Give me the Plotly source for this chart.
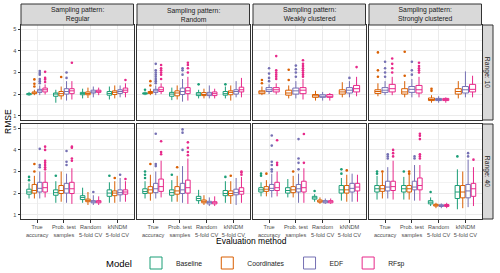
import plotly.graph_objects as go

METHODS = ["True<br>accuracy", "Prob. test<br>samples", "Random<br>5-fold CV", "kNNDM<br>5-fold CV"]
PATTERNS = ["Regular", "Random", "Weakly clustered", "Strongly clustered"]
RANGES = ["Range: 10", "Range: 40"]
MODELS = ["Baseline", "Coordinates", "EDF", "RFsp"]
COLORS = ["#1B9E77", "#D95F02", "#7570B3", "#E7298A"]

# panel order: Range 10 (Regular, Random, Weakly, Strongly), Range 40 (same)
# each panel: per model -> values for the 4 evaluation methods
Q1 = [
    [[1.97, 1.90, 1.97, 1.95], [2.02, 1.92, 1.97, 1.98], [2.08, 2.00, 2.05, 2.03], [2.10, 2.02, 2.08, 2.08]],
    [[2.00, 1.90, 1.93, 1.95], [2.03, 1.92, 1.93, 1.97], [2.08, 1.98, 1.93, 2.00], [2.12, 2.02, 1.93, 2.10]],
    [[1.98, 1.92, 1.92, 2.00], [2.02, 1.95, 1.85, 2.00], [2.12, 2.00, 1.85, 2.05], [2.10, 2.02, 1.85, 2.10]],
    [[1.98, 1.90, 1.78, 2.00], [2.03, 2.00, 1.70, 2.00], [2.08, 2.08, 1.70, 2.05], [2.10, 2.05, 1.70, 2.10]],
    [[1.95, 1.90, 1.70, 1.85], [2.00, 1.98, 1.60, 1.88], [2.05, 2.00, 1.55, 1.92], [2.05, 1.98, 1.55, 1.95]],
    [[1.98, 1.90, 1.65, 1.88], [2.00, 1.95, 1.55, 1.88], [2.02, 1.98, 1.50, 1.92], [2.08, 2.00, 1.50, 1.95]],
    [[2.05, 2.00, 1.72, 2.00], [2.08, 2.02, 1.58, 2.00], [2.12, 2.05, 1.55, 2.05], [2.12, 2.05, 1.55, 2.10]],
    [[2.05, 2.05, 1.50, 1.75], [2.08, 2.05, 1.40, 1.78], [2.10, 2.15, 1.38, 1.78], [2.12, 2.15, 1.38, 1.85]],
]
MED = [
    [[2.00, 2.00, 2.03, 2.03], [2.05, 2.02, 2.03, 2.08], [2.15, 2.12, 2.10, 2.12], [2.20, 2.15, 2.13, 2.18]],
    [[2.03, 2.00, 2.00, 2.02], [2.07, 2.05, 1.98, 2.08], [2.15, 2.12, 2.00, 2.12], [2.20, 2.15, 2.02, 2.20]],
    [[2.00, 2.00, 2.00, 2.08], [2.10, 2.05, 1.92, 2.10], [2.20, 2.15, 1.90, 2.18], [2.20, 2.18, 1.90, 2.25]],
    [[2.03, 2.02, 1.88, 2.10], [2.12, 2.10, 1.75, 2.12], [2.18, 2.22, 1.75, 2.20], [2.25, 2.20, 1.74, 2.22]],
    [[2.05, 2.02, 1.80, 2.00], [2.12, 2.12, 1.65, 2.00], [2.22, 2.20, 1.60, 2.02], [2.25, 2.20, 1.60, 2.05]],
    [[2.07, 2.02, 1.75, 1.98], [2.15, 2.10, 1.62, 1.98], [2.20, 2.15, 1.57, 2.02], [2.30, 2.25, 1.55, 2.08]],
    [[2.15, 2.12, 1.78, 2.15], [2.18, 2.15, 1.62, 2.15], [2.22, 2.20, 1.60, 2.22], [2.25, 2.25, 1.60, 2.28]],
    [[2.20, 2.20, 1.58, 2.05], [2.20, 2.20, 1.44, 2.05], [2.28, 2.28, 1.42, 2.10], [2.30, 2.35, 1.42, 2.20]],
]
Q3 = [
    [[2.03, 2.05, 2.08, 2.12], [2.10, 2.12, 2.10, 2.15], [2.22, 2.25, 2.18, 2.20], [2.28, 2.25, 2.18, 2.28]],
    [[2.06, 2.08, 2.07, 2.12], [2.12, 2.15, 2.07, 2.15], [2.22, 2.28, 2.08, 2.20], [2.32, 2.30, 2.10, 2.32]],
    [[2.05, 2.10, 2.08, 2.20], [2.15, 2.18, 1.98, 2.20], [2.30, 2.28, 1.97, 2.30], [2.30, 2.30, 1.98, 2.40]],
    [[2.10, 2.20, 1.95, 2.25], [2.20, 2.25, 1.82, 2.25], [2.30, 2.35, 1.80, 2.35], [2.45, 2.40, 1.80, 2.45]],
    [[2.18, 2.15, 1.88, 2.15], [2.40, 2.35, 1.72, 2.10], [2.50, 2.45, 1.65, 2.15], [2.50, 2.50, 1.65, 2.15]],
    [[2.20, 2.15, 1.85, 2.12], [2.30, 2.30, 1.68, 2.10], [2.45, 2.45, 1.62, 2.18], [2.65, 2.60, 1.60, 2.25]],
    [[2.25, 2.25, 1.85, 2.35], [2.30, 2.30, 1.68, 2.35], [2.40, 2.40, 1.65, 2.45], [2.50, 2.55, 1.65, 2.45]],
    [[2.35, 2.35, 1.65, 2.35], [2.35, 2.35, 1.48, 2.35], [2.55, 2.55, 1.46, 2.40], [2.55, 2.70, 1.47, 2.45]],
]
LO = [
    [[1.92, 1.60, 1.80, 1.75], [1.95, 1.75, 1.82, 1.80], [1.95, 1.70, 1.85, 1.85], [1.98, 1.75, 1.95, 1.85]],
    [[1.95, 1.72, 1.80, 1.80], [1.95, 1.75, 1.80, 1.70], [1.95, 1.65, 1.80, 1.85], [2.00, 1.70, 1.80, 1.85]],
    [[1.93, 1.80, 1.80, 1.80], [1.95, 1.80, 1.70, 1.85], [2.00, 1.80, 1.70, 1.85], [1.98, 1.75, 1.70, 1.90]],
    [[1.90, 1.75, 1.65, 1.75], [1.90, 1.85, 1.60, 1.80], [1.95, 1.85, 1.60, 1.85], [1.95, 1.85, 1.60, 1.85]],
    [[1.75, 1.55, 1.55, 1.55], [1.75, 1.60, 1.45, 1.55], [1.75, 1.55, 1.45, 1.60], [1.80, 1.50, 1.45, 1.60]],
    [[1.75, 1.60, 1.50, 1.55], [1.65, 1.60, 1.45, 1.50], [1.75, 1.55, 1.40, 1.45], [1.80, 1.50, 1.40, 1.55]],
    [[1.85, 1.80, 1.60, 1.65], [1.85, 1.80, 1.50, 1.60], [1.80, 1.55, 1.50, 1.60], [1.85, 1.55, 1.50, 1.60]],
    [[1.70, 1.70, 1.40, 1.25], [1.75, 1.70, 1.30, 1.30], [1.75, 1.65, 1.30, 1.35], [1.70, 1.65, 1.30, 1.40]],
]
HI = [
    [[2.10, 2.20, 2.25, 2.35], [2.20, 2.35, 2.30, 2.40], [2.40, 2.60, 2.35, 2.40], [2.45, 2.60, 2.30, 2.50]],
    [[2.12, 2.30, 2.20, 2.35], [2.25, 2.40, 2.25, 2.40], [2.40, 2.70, 2.40, 2.60], [2.50, 2.80, 2.25, 2.75]],
    [[2.10, 2.25, 2.20, 2.40], [2.35, 2.40, 2.15, 2.55], [2.45, 2.60, 2.10, 2.60], [2.50, 2.70, 2.05, 2.80]],
    [[2.20, 2.40, 2.10, 2.65], [2.50, 2.60, 1.95, 2.60], [2.60, 2.70, 1.90, 3.05], [2.80, 2.80, 1.85, 2.85]],
    [[2.45, 2.55, 2.25, 2.50], [2.80, 3.00, 2.05, 2.55], [3.00, 2.90, 1.90, 2.70], [3.00, 3.15, 1.85, 2.55]],
    [[2.55, 2.60, 2.15, 2.55], [2.85, 2.80, 1.90, 2.55], [3.00, 3.25, 1.80, 2.70], [3.50, 3.60, 1.85, 2.75]],
    [[2.50, 2.65, 1.95, 2.70], [2.60, 2.80, 1.80, 2.85], [2.90, 2.90, 1.75, 2.90], [3.00, 3.15, 1.75, 2.85]],
    [[2.80, 2.75, 1.80, 3.10], [2.95, 2.85, 1.55, 3.00], [3.20, 3.30, 1.52, 3.55], [3.50, 3.30, 1.55, 3.20]],
]
OUT = [
    [[[], [], [], []],
     [[2.35, 2.48, 2.68], [2.79], [], []],
     [[2.5, 2.6, 2.7, 2.9, 2.98, 3.07], [2.75, 3.0], [], []],
     [[2.56, 2.68, 2.75, 3.03], [3.45], [], [2.65]]],
    [[[2.2], [], [2.45], [2.45]],
     [[2.4, 2.6], [], [], []],
     [[2.5, 2.6, 2.7, 2.8, 2.9, 3.0, 3.1, 3.4], [2.9, 3.1, 3.2], [], []],
     [[2.7, 2.9, 3.0, 3.1, 3.2, 3.35], [3.0, 3.2, 3.35, 3.45], [], []]],
    [[[], [2.4], [], []],
     [[2.5, 2.65], [2.65, 3.13], [], []],
     [[2.6, 2.75, 2.95, 3.2], [2.8, 3.0, 3.15, 3.32], [], [2.75]],
     [[2.7, 2.8, 2.9, 3.0, 3.1, 3.76], [2.8, 2.9, 3.0, 3.1, 3.2, 3.3, 3.4, 3.57], [], [3.25]]],
    [[[], [2.6], [2.45], []],
     [[2.8, 3.1, 3.93], [2.85, 3.96], [2.15, 2.25], []],
     [[2.8, 3.0, 3.2, 3.5], [2.9, 3.1, 3.5], [], []],
     [[3.0, 3.2, 3.4, 3.65], [3.0, 3.1, 3.2, 3.3, 3.45], [], []]],
    [[[2.6, 2.75], [2.8], [], [2.8]],
     [[3.0, 3.35], [], [], [2.7]],
     [[3.2, 3.3, 4.05], [3.3, 3.45, 3.95], [2.05], [2.85]],
     [[3.1, 3.2, 3.3, 3.4, 3.5, 4.0, 4.15], [3.5, 3.6, 4.1, 4.15], [], [2.65]]],
    [[[2.7, 2.85, 3.0], [2.85], [], [2.75]],
     [[3.35], [3.2], [], [2.8]],
     [[3.25, 3.35, 4.75], [4.0, 4.8, 4.95], [], []],
     [[3.8, 3.9, 4.4], [3.75, 3.9, 4.1, 4.35], [], [2.85, 2.95, 3.0]]],
    [[[2.8, 2.9], [], [2.1], [2.9, 3.1]],
     [[2.9], [3.0], [], [3.05]],
     [[3.0, 3.1, 3.3, 3.45, 4.2, 4.67], [3.1, 3.4, 3.6, 4.5], [], []],
     [[3.3, 3.4, 4.45], [3.4, 4.74], [], []]],
    [[[2.9, 3.0], [3.0], [2.05], [3.7]],
     [[3.0], [2.9, 3.0], [], []],
     [[3.6, 3.7, 3.8], [3.6, 3.7], [], [3.7, 3.85]],
     [[3.7, 3.85, 4.0], [3.6, 3.7, 3.8, 4.5, 4.65, 4.75], [], [3.55]]],
]
Y_TICKS = [1, 2, 3, 4, 5]

# ---------------- layout geometry (pixels) ----------------
W, H = 500, 273
ML, MR, MT, MB = 21, 7, 4, 54
PW = W - ML - MR
PH = H - MT - MB
col_px = [(21, 133.5), (137, 249.5), (253, 365.5), (369, 481.5)]
row_px = [(25, 120), (124, 219)]
strip_top = (4, 25)
strip_right = (482.5, 493)


def fx(px):
    return (px - ML) / PW


def fy(py):
    return (H - MB - py) / PH


FONT = "Liberation Sans, Arial, sans-serif"
fig = go.Figure()

for p in range(8):
    r, c = divmod(p, 4)
    k = p + 1
    for m in range(4):
        outl = OUT[p][m]
        has_out = any(len(v) > 0 for v in outl)
        fig.add_trace(go.Box(
            x=METHODS,
            q1=Q1[p][m], median=MED[p][m], q3=Q3[p][m],
            lowerfence=LO[p][m], upperfence=HI[p][m],
            y=outl if has_out else None,
            name=MODELS[m], showlegend=(p == 0),
            offsetgroup=MODELS[m],
            boxpoints="outliers", jitter=0, pointpos=0,
            marker=dict(color=COLORS[m], size=2.6),
            line=dict(color=COLORS[m], width=1),
            fillcolor="white", whiskerwidth=0,
            xaxis="x" + (str(k) if k > 1 else ""),
            yaxis="y" + (str(k) if k > 1 else ""),
        ))

layout = dict(
    width=W, height=H,
    margin=dict(l=ML, r=MR, t=MT, b=MB, autoexpand=False),
    paper_bgcolor="white", plot_bgcolor="white",
    boxmode="group", boxgap=0.2, boxgroupgap=0.15,
    font=dict(family=FONT, color="#1A1A1A"),
    showlegend=True,
    legend=dict(orientation="h", x=fx(136), xanchor="left", y=fy(263), yanchor="middle",
                font=dict(size=6.8), itemwidth=30, traceorder="normal",
                bgcolor="rgba(0,0,0,0)"),
)

for p in range(8):
    r, c = divmod(p, 4)
    k = p + 1
    sx = str(k) if k > 1 else ""
    layout["xaxis" + sx] = dict(
        domain=[fx(col_px[c][0]), fx(col_px[c][1])],
        anchor="y" + sx, type="category",
        categoryorder="array", categoryarray=METHODS,
        range=[-0.6, 3.6], tickangle=0, automargin=False,
        showticklabels=(r == 1), ticks="outside" if r == 1 else "",
        ticklen=2.5, tickcolor="#333333", tickwidth=1,
        tickfont=dict(size=5.6, color="#4D4D4D"),
        showgrid=True, gridcolor="#EBEBEB", gridwidth=1,
        showline=True, linecolor="#333333", linewidth=1, mirror=True,
        zeroline=False, fixedrange=True,
    )
    layout["yaxis" + sx] = dict(
        domain=[fy(row_px[r][1]), fy(row_px[r][0])],
        anchor="x" + sx, range=[0.8, 5.2], automargin=False,
        tickvals=Y_TICKS, showticklabels=(c == 0),
        ticks="outside" if c == 0 else "", ticklen=2.5,
        tickcolor="#333333", tickwidth=1,
        tickfont=dict(size=5.6, color="#4D4D4D"),
        showgrid=True, gridcolor="#EBEBEB", gridwidth=1,
        minor=dict(tickvals=[1.5, 2.5, 3.5, 4.5], showgrid=True,
                   gridcolor="#F2F2F2", gridwidth=0.6, ticks=""),
        showline=True, linecolor="#333333", linewidth=1, mirror=True,
        zeroline=False, fixedrange=True,
    )

shapes = []
annotations = []
for c, pat in enumerate(PATTERNS):
    shapes.append(dict(type="rect", xref="paper", yref="paper",
                       x0=fx(col_px[c][0]), x1=fx(col_px[c][1]),
                       y0=fy(strip_top[1]), y1=fy(strip_top[0]),
                       fillcolor="#D9D9D9", line=dict(color="#333333", width=1)))
    annotations.append(dict(text="Sampling pattern:<br>" + pat, xref="paper", yref="paper",
                            x=fx((col_px[c][0] + col_px[c][1]) / 2),
                            y=fy((strip_top[0] + strip_top[1]) / 2),
                            xanchor="center", yanchor="middle",
                            showarrow=False, font=dict(size=6.8, color="#1A1A1A")))
for r, rng in enumerate(RANGES):
    shapes.append(dict(type="rect", xref="paper", yref="paper",
                       x0=fx(strip_right[0]), x1=fx(strip_right[1]),
                       y0=fy(row_px[r][1]), y1=fy(row_px[r][0]),
                       fillcolor="#D9D9D9", line=dict(color="#333333", width=1)))
    annotations.append(dict(text=rng, xref="paper", yref="paper",
                            x=fx((strip_right[0] + strip_right[1]) / 2),
                            y=fy((row_px[r][0] + row_px[r][1]) / 2),
                            xanchor="center", yanchor="middle",
                            textangle=90, showarrow=False,
                            font=dict(size=6.8, color="#1A1A1A")))
annotations.append(dict(text="RMSE", xref="paper", yref="paper",
                        x=fx(8), y=fy(122), textangle=-90, showarrow=False,
                        xanchor="center", yanchor="middle",
                        font=dict(size=8.5, color="#000000")))
annotations.append(dict(text="Evaluation method", xref="paper", yref="paper",
                        x=fx(251), y=fy(241), showarrow=False,
                        xanchor="center", yanchor="middle",
                        font=dict(size=8.5, color="#000000")))
annotations.append(dict(text="Model", xref="paper", yref="paper",
                        x=fx(134), y=fy(263), showarrow=False,
                        xanchor="right", yanchor="middle",
                        font=dict(size=9.5, color="#000000")))
layout["shapes"] = shapes
layout["annotations"] = annotations

fig.update_layout(**layout)
fig.write_html("out.html", config={"displayModeBar": False},
               post_script="document.body.style.margin='0';")
